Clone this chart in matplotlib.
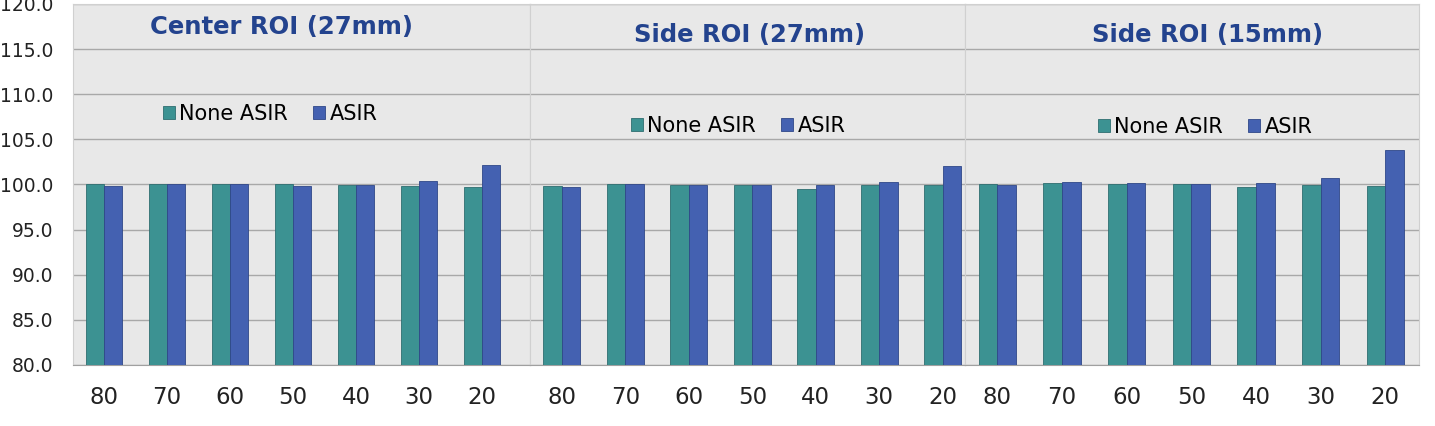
import matplotlib
matplotlib.use("Agg")
import matplotlib.pyplot as plt
import numpy as np

levels = ["80", "70", "60", "50", "40", "30", "20"]
panel_titles = ["Center ROI (27mm)", "Side ROI (27mm)", "Side ROI (15mm)"]
series_names = ["None ASIR", "ASIR"]

center_27_none = [100.0, 100.0, 100.0, 100.0, 99.9, 99.85, 99.7]
center_27_asir = [99.85, 100.0, 100.0, 99.85, 99.9, 100.4, 102.2]
side_27_none = [99.85, 100.0, 99.9, 99.9, 99.45, 99.9, 99.9]
side_27_asir = [99.7, 100.05, 99.9, 99.9, 99.9, 100.3, 102.0]
side_15_none = [100.05, 100.2, 100.1, 100.05, 99.7, 99.95, 99.8]
side_15_asir = [99.9, 100.3, 100.2, 100.05, 100.2, 100.7, 103.85]

y_ticks = [80, 85, 90, 95, 100, 105, 110, 115, 120]

TEAL = "#3C9292"
BLUE = "#4461B1"
TITLE_BLUE = "#23438E"
BG = "#E8E8E8"

W, H = 1435, 426
fig = plt.figure(figsize=(W / 100, H / 100), dpi=100)

# panel layout in pixels: (left, right, xlim right end, data, title pos, legend pos)
panels = [
    (72.5, 530, 6.76, center_27_none, center_27_asir, (282, 27), (270, 114)),
    (530, 965, 6.35, side_27_none, side_27_asir, (750, 35), (738, 126)),
    (965, 1419, 6.52, side_15_none, side_15_asir, (1208, 35), (1205, 127)),
]
top_px, bottom_px = 4, 365

x = np.arange(len(levels))
width = 0.29
for i, (l, r, xr, none_vals, asir_vals, title_pos, leg_pos) in enumerate(panels):
    ax = fig.add_axes([l / W, (H - bottom_px) / H, (r - l) / W, (bottom_px - top_px) / H])
    ax.set_facecolor(BG)
    ax.bar(x - width / 2, np.array(none_vals) - 80, width, bottom=80, color=TEAL,
           edgecolor="#2E6E70", linewidth=0.6, label=series_names[0], zorder=3)
    ax.bar(x + width / 2, np.array(asir_vals) - 80, width, bottom=80, color=BLUE,
           edgecolor="#2F4788", linewidth=0.6, label=series_names[1], zorder=3)
    ax.set_ylim(80, 120)
    ax.set_xlim(-0.5, xr)
    ax.set_yticks(y_ticks)
    ax.yaxis.grid(True, color="#A8A8A8", linewidth=1.0, zorder=0)
    ax.set_axisbelow(True)
    ax.set_xticks(x)
    ax.set_xticklabels(levels, fontsize=16.5, color="#222222")
    ax.tick_params(axis="x", length=0, pad=15)
    if i == 0:
        ax.set_yticklabels([f"{v:.1f}" for v in y_ticks], fontsize=13.5, color="#222222")
        ax.tick_params(axis="y", length=0, pad=14)
    else:
        ax.tick_params(axis="y", length=0, labelleft=False)
    for side in ["top", "right", "left"]:
        ax.spines[side].set_color("#D0D0D0")
        ax.spines[side].set_linewidth(0.8)
    ax.spines["bottom"].set_color("#A0A0A0")

    fig.text(title_pos[0] / W, (H - title_pos[1]) / H, panel_titles[i], fontsize=17.5,
             fontweight="bold", color=TITLE_BLUE, ha="center", va="center")
    ax.legend(loc="center", bbox_to_anchor=(leg_pos[0] / W, (H - leg_pos[1]) / H),
              bbox_transform=fig.transFigure, ncol=2, frameon=False, fontsize=15,
              handlelength=0.6, handleheight=0.6, handletextpad=0.2, columnspacing=1.2)

fig.savefig("out.png", dpi=100, facecolor="white")
